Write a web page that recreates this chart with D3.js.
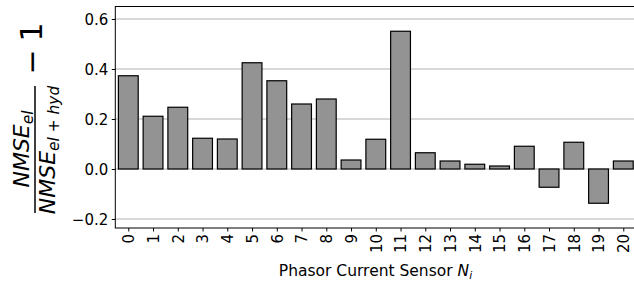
<!DOCTYPE html>
<html>
<head>
<meta charset="utf-8">
<script src="https://cdn.jsdelivr.net/npm/d3@7"></script>
<style>
  body { margin: 0; background: #fff; }
  text { font-family: "DejaVu Sans", sans-serif; fill: #000; }
</style>
</head>
<body>
<div id="chart"></div>
<script>
// sensor index and relative NMSE gain
var sensors = d3.range(0, 21);
var gains = [0.373, 0.211, 0.247, 0.123, 0.120, 0.425, 0.353, 0.260, 0.280, 0.036,
             0.119, 0.551, 0.065, 0.032, 0.019, 0.012, 0.091, -0.073, 0.107, -0.137, 0.032];
var yTicks = [-0.2, 0.0, 0.2, 0.4, 0.6];

var W = 634, H = 282;
var plotLeft = 115.3, plotTop = 6.5, plotBottom = 228;
var step = 24.75;

var x = d3.scaleLinear().domain([-0.525, 20.525]).range([plotLeft, plotLeft + 21.05 * step]);
var y = d3.scaleLinear().domain([-0.236, 0.65]).range([plotBottom, plotTop]);

var svg = d3.select("#chart").append("svg")
    .attr("width", W)
    .attr("height", H);

// grid
svg.append("g").selectAll("line")
    .data(yTicks)
    .enter().append("line")
    .attr("x1", x.range()[0]).attr("x2", x.range()[1])
    .attr("y1", function (d) { return y(d); })
    .attr("y2", function (d) { return y(d); })
    .attr("stroke", "#b0b0b0")
    .attr("stroke-width", 1);

// bars
svg.append("g").selectAll("rect")
    .data(gains)
    .enter().append("rect")
    .attr("x", function (d, i) { return x(sensors[i] - 0.4); })
    .attr("width", x(0.8) - x(0))
    .attr("y", function (d) { return y(Math.max(0, d)); })
    .attr("height", function (d) { return Math.abs(y(d) - y(0)); })
    .attr("fill", "#939393")
    .attr("stroke", "#000")
    .attr("stroke-width", 1.2);

// frame
svg.append("rect")
    .attr("x", x.range()[0]).attr("y", plotTop)
    .attr("width", x.range()[1] - x.range()[0])
    .attr("height", plotBottom - plotTop)
    .attr("fill", "none")
    .attr("stroke", "#000")
    .attr("stroke-width", 1);

// y axis
var yAxis = d3.axisLeft(y)
    .tickValues(yTicks)
    .tickFormat(d3.format(".1f"))
    .tickSize(3.5)
    .tickPadding(3.5);

var gy = svg.append("g")
    .attr("transform", "translate(" + plotLeft + ",0)")
    .call(yAxis);
gy.select(".domain").remove();
gy.selectAll("text").style("font-size", "15px").attr("dy", "0.35em");

// x axis
var xAxis = d3.axisBottom(x)
    .tickValues(sensors)
    .tickFormat(d3.format("d"))
    .tickSize(3.5);

var gx = svg.append("g")
    .attr("transform", "translate(0," + plotBottom + ")")
    .call(xAxis);
gx.select(".domain").remove();
gx.selectAll("text")
    .style("font-size", "15px")
    .attr("text-anchor", "end")
    .attr("dy", null)
    .attr("y", 0)
    .attr("transform", "translate(5.3,6) rotate(-90)");

// x label
var xl = svg.append("text")
    .attr("x", 375.5)
    .attr("y", 276)
    .attr("text-anchor", "middle")
    .style("font-size", "15.5px");
xl.append("tspan").text("Phasor Current Sensor ");
xl.append("tspan").style("font-style", "italic").text("N");
xl.append("tspan").style("font-style", "italic").style("font-size", "10.8px")
    .attr("dy", 3).text("i");

// y label: NMSE_el / NMSE_el+hyd − 1
var num = svg.append("text")
    .attr("transform", "translate(29,149) rotate(-90)")
    .attr("text-anchor", "middle")
    .style("font-size", "22px");
num.append("tspan").style("font-style", "italic").text("NMSE");
num.append("tspan").style("font-style", "italic").style("font-size", "15.4px")
    .attr("dy", 4).text("el");

var den = svg.append("text")
    .attr("transform", "translate(55,150) rotate(-90)")
    .attr("text-anchor", "middle")
    .style("font-size", "22px");
den.append("tspan").style("font-style", "italic").text("NMSE");
den.append("tspan").style("font-style", "italic").style("font-size", "15.4px")
    .attr("dy", 4).text("el");
den.append("tspan").style("font-size", "15.4px").text(" + ");
den.append("tspan").style("font-style", "italic").style("font-size", "15.4px").text("hyd");

svg.append("line")
    .attr("x1", 35).attr("x2", 35)
    .attr("y1", 86).attr("y2", 213)
    .attr("stroke", "#000")
    .attr("stroke-width", 1.5);

svg.append("text")
    .attr("transform", "translate(41.5,62) rotate(-90)")
    .attr("text-anchor", "middle")
    .style("font-size", "30px")
    .text("\u2212");

svg.append("text")
    .attr("transform", "translate(42,32) rotate(-90)")
    .attr("text-anchor", "middle")
    .style("font-size", "30px")
    .text("1");
</script>
</body>
</html>
